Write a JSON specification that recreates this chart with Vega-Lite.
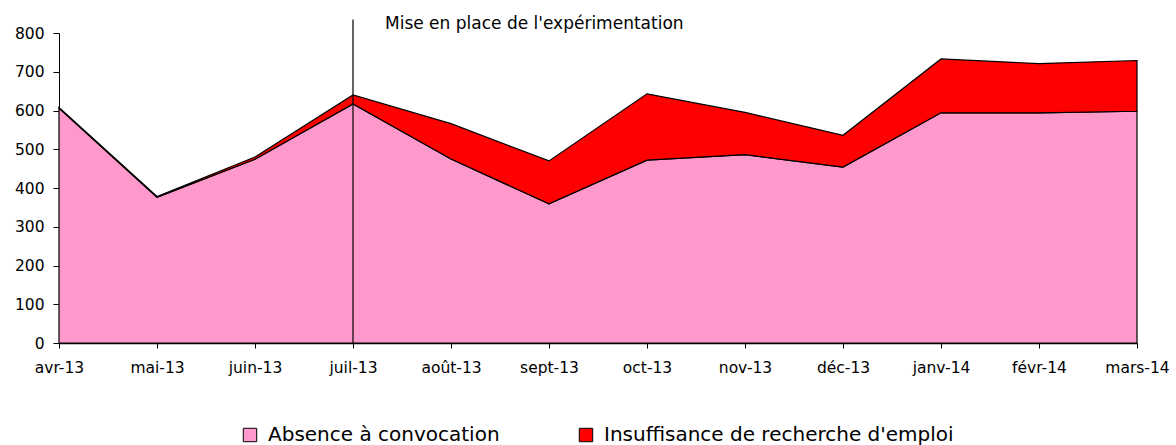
{
  "$schema": "https://vega.github.io/schema/vega-lite/v6.json",
  "width": 1078,
  "height": 310,
  "autosize": {"type": "none"},
  "padding": {"left": 59, "top": 33, "right": 39, "bottom": 102},
  "background": "white",
  "config": {
    "view": {"stroke": null},
    "font": "DejaVu Sans",
    "axis": {"grid": false, "domainColor": "black", "tickColor": "black", "labelColor": "black", "labelFont": "DejaVu Sans", "labelFontSize": 15.5, "title": null, "labelOverlap": false},
    "axisY": {"labelOverlap": false}
  },
  "data": {
    "values": [
      {"genre": "serie", "mois": "avr-13", "serie": "Absence à convocation", "ordre": 1, "valeur": 606},
      {"genre": "serie", "mois": "mai-13", "serie": "Absence à convocation", "ordre": 1, "valeur": 376},
      {"genre": "serie", "mois": "juin-13", "serie": "Absence à convocation", "ordre": 1, "valeur": 474},
      {"genre": "serie", "mois": "juil-13", "serie": "Absence à convocation", "ordre": 1, "valeur": 617},
      {"genre": "serie", "mois": "août-13", "serie": "Absence à convocation", "ordre": 1, "valeur": 475},
      {"genre": "serie", "mois": "sept-13", "serie": "Absence à convocation", "ordre": 1, "valeur": 359},
      {"genre": "serie", "mois": "oct-13", "serie": "Absence à convocation", "ordre": 1, "valeur": 472},
      {"genre": "serie", "mois": "nov-13", "serie": "Absence à convocation", "ordre": 1, "valeur": 486},
      {"genre": "serie", "mois": "déc-13", "serie": "Absence à convocation", "ordre": 1, "valeur": 454},
      {"genre": "serie", "mois": "janv-14", "serie": "Absence à convocation", "ordre": 1, "valeur": 594},
      {"genre": "serie", "mois": "févr-14", "serie": "Absence à convocation", "ordre": 1, "valeur": 594},
      {"genre": "serie", "mois": "mars-14", "serie": "Absence à convocation", "ordre": 1, "valeur": 598},
      {"genre": "serie", "mois": "avr-13", "serie": "Insuffisance de recherche d'emploi", "ordre": 2, "valeur": 2},
      {"genre": "serie", "mois": "mai-13", "serie": "Insuffisance de recherche d'emploi", "ordre": 2, "valeur": 2},
      {"genre": "serie", "mois": "juin-13", "serie": "Insuffisance de recherche d'emploi", "ordre": 2, "valeur": 6},
      {"genre": "serie", "mois": "juil-13", "serie": "Insuffisance de recherche d'emploi", "ordre": 2, "valeur": 23},
      {"genre": "serie", "mois": "août-13", "serie": "Insuffisance de recherche d'emploi", "ordre": 2, "valeur": 91},
      {"genre": "serie", "mois": "sept-13", "serie": "Insuffisance de recherche d'emploi", "ordre": 2, "valeur": 111},
      {"genre": "serie", "mois": "oct-13", "serie": "Insuffisance de recherche d'emploi", "ordre": 2, "valeur": 171},
      {"genre": "serie", "mois": "nov-13", "serie": "Insuffisance de recherche d'emploi", "ordre": 2, "valeur": 109},
      {"genre": "serie", "mois": "déc-13", "serie": "Insuffisance de recherche d'emploi", "ordre": 2, "valeur": 82},
      {"genre": "serie", "mois": "janv-14", "serie": "Insuffisance de recherche d'emploi", "ordre": 2, "valeur": 139},
      {"genre": "serie", "mois": "févr-14", "serie": "Insuffisance de recherche d'emploi", "ordre": 2, "valeur": 127},
      {"genre": "serie", "mois": "mars-14", "serie": "Insuffisance de recherche d'emploi", "ordre": 2, "valeur": 131},
      {"genre": "ligne", "mois": "juil-13", "valeur": 0, "haut": 835},
      {"genre": "texte", "mois": "juil-13", "valeur": 811, "texte": "Mise en place de l'expérimentation"}
    ]
  },
  "encoding": {
    "x": {
      "field": "mois",
      "type": "ordinal",
      "sort": ["avr-13", "mai-13", "juin-13", "juil-13", "août-13", "sept-13", "oct-13", "nov-13", "déc-13", "janv-14", "févr-14", "mars-14"],
      "scale": {"type": "point", "padding": 0},
      "axis": {"labelAngle": 0, "tickSize": 5, "labelPadding": 12, "labelOverlap": false, "labelFlush": false, "domainWidth": 1.5}
    },
    "y": {
      "field": "valeur",
      "type": "quantitative",
      "scale": {"domain": [0, 800], "nice": false},
      "axis": {"values": [0, 100, 200, 300, 400, 500, 600, 700, 800], "tickSize": 6, "labelPadding": 9, "domainWidth": 1, "labelOverlap": false, "labelFlush": false}
    }
  },
  "layer": [
    {
      "transform": [{"filter": "datum.genre === 'serie'"}],
      "mark": {"type": "area", "stroke": "black", "strokeWidth": 1.2, "opacity": 1},
      "encoding": {
        "order": {"field": "ordre", "type": "quantitative"},
        "color": {
          "field": "serie",
          "type": "nominal",
          "scale": {"domain": ["Absence à convocation", "Insuffisance de recherche d'emploi"], "range": ["#FF99CC", "#FF0000"]},
          "legend": {
            "title": null,
            "orient": "none",
            "direction": "horizontal",
            "columns": 2,
            "legendX": 181,
            "legendY": 392,
            "padding": 0,
            "columnPadding": 76,
            "symbolType": "square",
            "symbolSize": 180,
            "symbolStrokeColor": "black",
            "symbolStrokeWidth": 1,
            "symbolOpacity": 1,
            "labelFont": "DejaVu Sans",
            "labelFontSize": 20,
            "labelColor": "black",
            "labelOffset": 8,
            "labelLimit": 600
          }
        }
      }
    },
    {
      "transform": [{"filter": "datum.genre === 'ligne'"}],
      "mark": {"type": "rule", "color": "black", "strokeWidth": 1.2},
      "encoding": {
        "y2": {"field": "haut"}
      }
    },
    {
      "transform": [{"filter": "datum.genre === 'texte'"}],
      "mark": {"type": "text", "align": "left", "baseline": "alphabetic", "dx": 32, "font": "DejaVu Sans", "fontSize": 17, "color": "black"},
      "encoding": {
        "text": {"field": "texte"}
      }
    }
  ]
}
